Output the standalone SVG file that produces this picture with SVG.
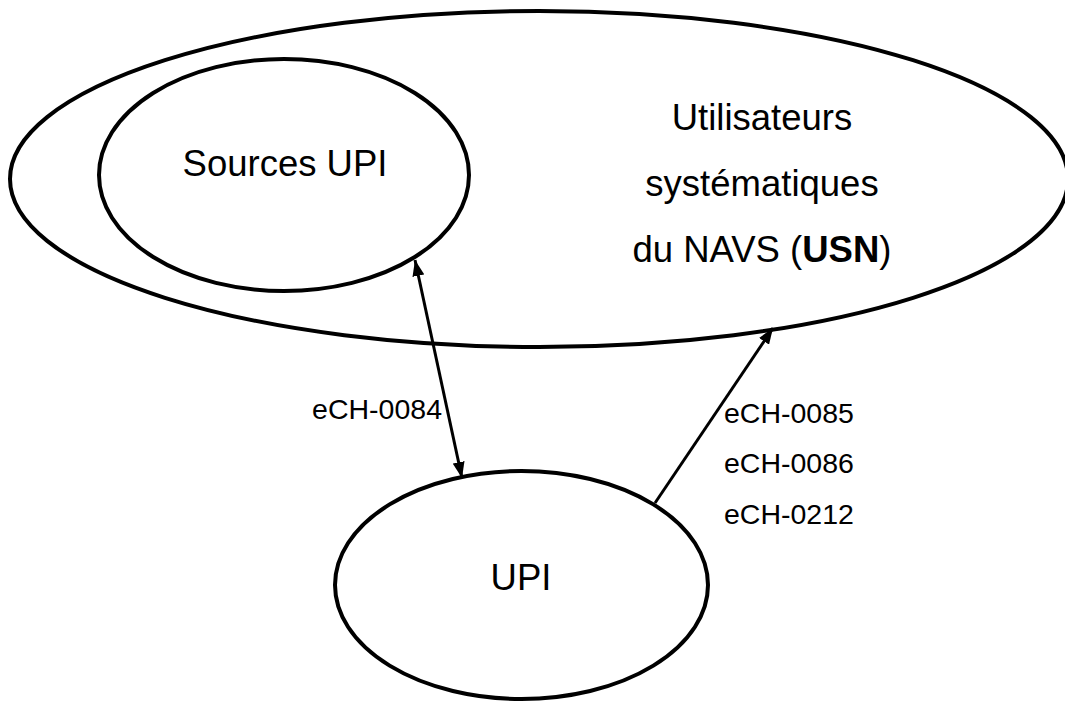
<svg xmlns="http://www.w3.org/2000/svg" width="1065" height="704" viewBox="0 0 1065 704">
<style>
.node{fill:none;stroke:#000;stroke-width:4}
.big{font-family:"Liberation Sans",Arial,sans-serif;font-size:36.5px;fill:#000;text-anchor:middle}
.lbl{font-family:"Liberation Sans",Arial,sans-serif;font-size:28.5px;fill:#000}
.edge{stroke:#000;stroke-width:3;fill:none}
</style>
<defs>
<marker id="ah" markerUnits="userSpaceOnUse" viewBox="0 0 16 12" markerWidth="16" markerHeight="12" refX="16" refY="6" orient="auto-start-reverse">
<path d="M0,0 L16,6 L0,12 z" fill="#000"/>
</marker>
</defs>
<rect width="1065" height="704" fill="#fff"/>
<g id="usn">
<ellipse class="node" cx="539" cy="179" rx="529" ry="168"/>
<text class="big" x="762" y="130">Utilisateurs</text>
<text class="big" x="762" y="196">systématiques</text>
<text class="big" x="762" y="262">du NAVS (<tspan font-weight="bold">USN</tspan>)</text>
</g>
<g id="sources-upi">
<ellipse class="node" cx="284" cy="175" rx="185" ry="116"/>
<text class="big" x="285" y="176">Sources UPI</text>
</g>
<g id="upi">
<ellipse class="node" cx="521.5" cy="585" rx="186.5" ry="114"/>
<text class="big" x="521" y="590">UPI</text>
</g>
<g id="connectors">
<line class="edge" x1="415" y1="260" x2="462" y2="478" marker-start="url(#ah)" marker-end="url(#ah)"/>
<line class="edge" x1="655" y1="503" x2="773" y2="328" marker-end="url(#ah)"/>
<text class="lbl" x="442" y="419" text-anchor="end">eCH-0084</text>
<text class="lbl" x="724" y="423">eCH-0085</text>
<text class="lbl" x="724" y="473">eCH-0086</text>
<text class="lbl" x="724" y="524">eCH-0212</text>
</g>
</svg>
